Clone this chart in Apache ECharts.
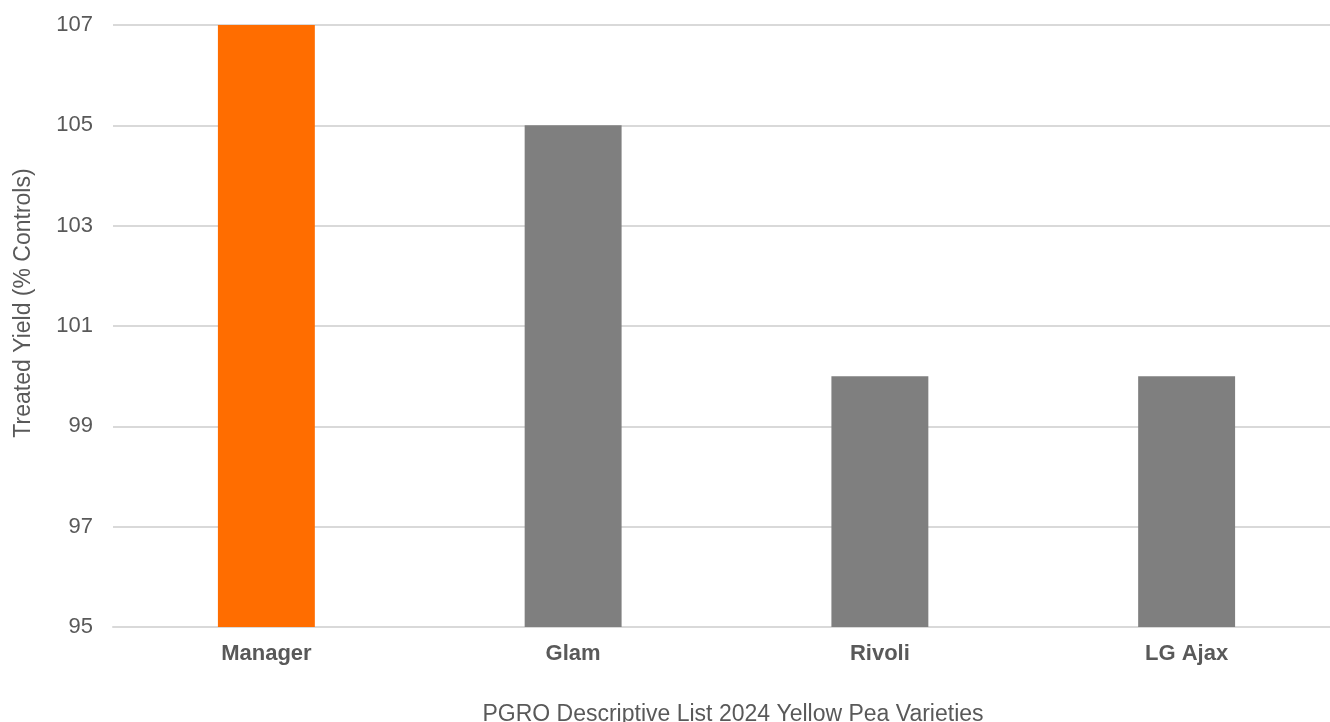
<!DOCTYPE html>
<html><head><meta charset="utf-8">
<script src="https://cdn.jsdelivr.net/npm/echarts@6/dist/echarts.min.js"></script>
<style>html,body{margin:0;padding:0;background:#fff}#c{width:1330px;height:722px}</style>
</head><body><div id="c"></div>
<script>
const categories = ['Manager', 'Glam', 'Rivoli', 'LG Ajax'];
const yieldValues = [107, 105, 100, 100];
const barColors = ['#ff6d00', '#7f7f7f', '#7f7f7f', '#7f7f7f'];
const chart = echarts.init(document.getElementById('c'));
chart.setOption({
  animation: false,
  textStyle: { fontFamily: 'Liberation Sans, Arial, sans-serif' },
  grid: { left: 113, width: 1227, top: 25, height: 602, containLabel: false, outerBoundsMode: 'none' },
  xAxis: {
    type: 'category', data: categories,
    name: 'PGRO Descriptive List 2024 Yellow Pea Varieties',
    nameLocation: 'middle', nameGap: 76,
    nameTextStyle: { fontSize: 23, color: '#595959', padding: [0, 0, 0, 13] },
    axisLine: { lineStyle: { color: '#d9d9d9', width: 2 } },
    axisTick: { show: false },
    axisLabel: { fontSize: 22, fontWeight: 'bold', color: '#595959', margin: 16 }
  },
  yAxis: {
    type: 'value', min: 95, max: 107, interval: 2,
    name: 'Treated Yield (% Controls)', nameLocation: 'middle', nameGap: 78,
    nameTextStyle: { fontSize: 23, color: '#595959', padding: [0, 0, 0, 46] },
    axisLabel: { fontSize: 22, color: '#595959', margin: 20 },
    splitLine: { lineStyle: { color: '#d9d9d9', width: 2 } },
    axisLine: { show: false }, axisTick: { show: false }
  },
  series: [{
    type: 'bar', barWidth: '31.6%',
    data: yieldValues.map((v, i) => ({ value: v, itemStyle: { color: barColors[i] } }))
  }]
});
</script></body></html>
